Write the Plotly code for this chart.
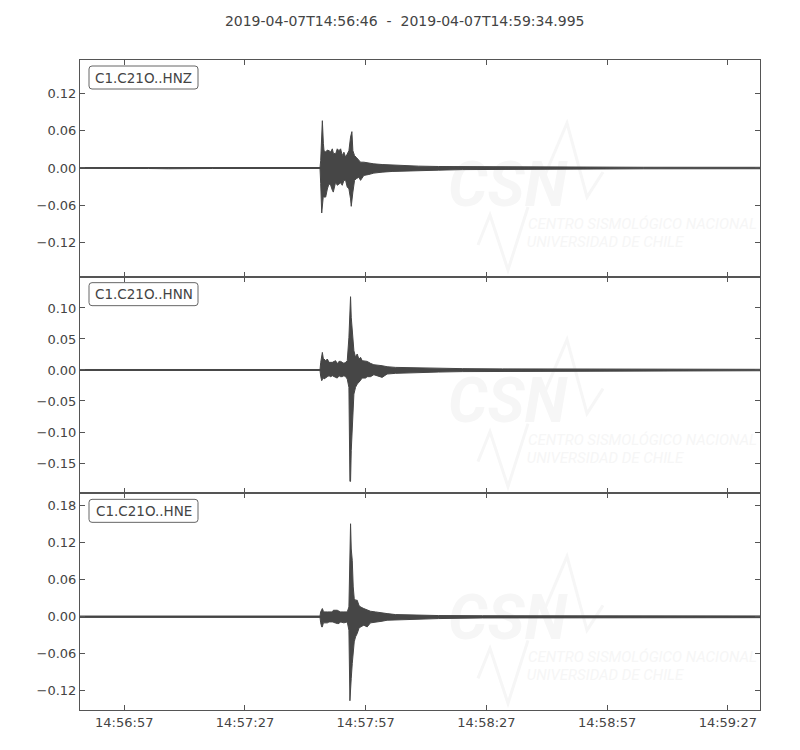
import pandas as pd
import plotly.graph_objects as go
from plotly.subplots import make_subplots

# ---------------- data ----------------
start_time = "2019-04-07 14:56:46"
end_time = "2019-04-07 14:59:34.995"
title_text = "2019-04-07T14:56:46  -  2019-04-07T14:59:34.995"
channels = ["C1.C21O..HNZ", "C1.C21O..HNN", "C1.C21O..HNE"]
x_tick_labels = ["14:56:57", "14:57:27", "14:57:57", "14:58:27", "14:58:57", "14:59:27"]

# seconds after start, upper envelope, lower envelope
hnz_t = [0.0, 17.0, 22.0, 28.0, 33.0, 59.65, 59.82, 60.07, 60.23, 60.48, 60.64, 61.06, 61.47,
         61.88, 62.30, 62.71, 62.95, 63.53, 63.94, 64.36, 64.77, 65.18, 65.59, 66.01, 66.42,
         66.83, 67.24, 67.41, 67.57, 67.82, 68.23, 68.65, 69.31, 69.72, 70.54, 71.78, 73.02,
         75.08, 77.56, 80.86, 84.16, 89.11, 95.0, 105.0, 120.0, 140.0, 169.0]
hnz_hi = [0.0007, 0.0008, 0.0013, 0.0012, 0.0008, 0.0008, 0.0120, 0.0765, 0.0765, 0.0400, 0.0280,
          0.0260, 0.0290, 0.0280, 0.0260, 0.0310, 0.0240, 0.0228, 0.0310, 0.0280, 0.0310, 0.0200,
          0.0255, 0.0174, 0.0228, 0.0280, 0.0500, 0.0588, 0.0588, 0.0280, 0.0200, 0.0174, 0.0132,
          0.0094, 0.0094, 0.0078, 0.0067, 0.0056, 0.0046, 0.0035, 0.0030, 0.0024, 0.0022, 0.0018,
          0.0014, 0.0012, 0.0011]
hnz_lo = [-0.0007, -0.0008, -0.0012, -0.0013, -0.0008, -0.0008, -0.0250, -0.0728, -0.0728, -0.0450,
          -0.0470, -0.0470, -0.0340, -0.0255, -0.0280, -0.0360, -0.0390, -0.0228, -0.0280, -0.0255,
          -0.0240, -0.0280, -0.0200, -0.0200, -0.0310, -0.0336, -0.0500, -0.0620, -0.0620, -0.0390,
          -0.0200, -0.0174, -0.0148, -0.0200, -0.0120, -0.0105, -0.0083, -0.0067, -0.0056, -0.0046,
          -0.0040, -0.0035, -0.0026, -0.0020, -0.0016, -0.0013, -0.0012]

hnn_t = [0.0, 59.65, 59.82, 60.07, 60.23, 60.48, 60.64, 61.06, 61.47, 61.88, 62.30, 62.71, 63.53,
         63.94, 64.36, 64.77, 65.18, 65.59, 66.01, 66.42, 66.83, 67.08, 67.24, 67.41, 67.66, 67.90,
         68.07, 68.48, 68.89, 69.31, 69.72, 70.13, 70.96, 71.37, 72.19, 73.02, 75.08, 76.32, 78.38,
         81.68, 85.81, 89.11, 95.0, 105.0, 120.0, 140.0, 169.0]
hnn_hi = [0.0008, 0.0008, 0.0120, 0.0284, 0.0284, 0.0180, 0.0177, 0.0150, 0.0177, 0.0123, 0.0123,
          0.0123, 0.0150, 0.0100, 0.0139, 0.0139, 0.0123, 0.0107, 0.0123, 0.0150, 0.0526, 0.1182,
          0.1182, 0.0850, 0.0688, 0.0526, 0.0311, 0.0204, 0.0258, 0.0177, 0.0204, 0.0150, 0.0150,
          0.0139, 0.0107, 0.0085, 0.0069, 0.0053, 0.0042, 0.0037, 0.0032, 0.0026, 0.0022, 0.0018,
          0.0014, 0.0012, 0.0011]
hnn_lo = [-0.0008, -0.0008, -0.0100, -0.0173, -0.0173, -0.0120, -0.0145, -0.0130, -0.0108, -0.0092,
          -0.0108, -0.0092, -0.0119, -0.0130, -0.0092, -0.0108, -0.0108, -0.0092, -0.0108, -0.0146,
          -0.0280, -0.1796, -0.1796, -0.1300, -0.0925, -0.0630, -0.0388, -0.0280, -0.0226, -0.0200,
          -0.0173, -0.0130, -0.0130, -0.0108, -0.0108, -0.0076, -0.0119, -0.0065, -0.0054, -0.0044,
          -0.0038, -0.0033, -0.0026, -0.0022, -0.0016, -0.0013, -0.0012]

hne_t = [0.0, 59.65, 59.82, 60.07, 60.23, 60.48, 60.64, 61.47, 61.88, 62.71, 62.95, 63.94, 64.36,
         64.77, 65.59, 66.42, 66.83, 67.08, 67.24, 67.41, 67.66, 67.90, 68.15, 68.48, 68.89, 69.31,
         69.72, 70.54, 71.37, 72.19, 73.43, 75.08, 76.32, 78.38, 81.68, 85.81, 89.11, 100.0, 120.0,
         169.0]
hne_hi = [0.0011, 0.0011, 0.0080, 0.0133, 0.0133, 0.0090, 0.0078, 0.0078, 0.0078, 0.0078, 0.0105,
          0.0105, 0.0090, 0.0078, 0.0078, 0.0078, 0.0159, 0.1510, 0.1510, 0.1100, 0.0916, 0.0484,
          0.0295, 0.0268, 0.0268, 0.0187, 0.0159, 0.0132, 0.0105, 0.0089, 0.0078, 0.0068, 0.0051,
          0.0035, 0.0030, 0.0024, 0.0019, 0.0016, 0.0014, 0.0013]
hne_lo = [-0.0011, -0.0011, -0.0100, -0.0165, -0.0165, -0.0100, -0.0100, -0.0100, -0.0084, -0.0084,
          -0.0090, -0.0111, -0.0111, -0.0084, -0.0100, -0.0084, -0.0219, -0.1365, -0.1365, -0.1000,
          -0.0760, -0.0543, -0.0408, -0.0327, -0.0273, -0.0192, -0.0165, -0.0138, -0.0165, -0.0100,
          -0.0084, -0.0073, -0.0057, -0.0046, -0.0041, -0.0035, -0.0030, -0.0020, -0.0016, -0.0015]

# axis settings
y_ranges = [[-0.1758, 0.1747], [-0.1989, 0.1505], [-0.1515, 0.2004]]
y_ticks = [[-0.12, -0.06, 0.0, 0.06, 0.12],
           [-0.15, -0.10, -0.05, 0.0, 0.05, 0.10],
           [-0.12, -0.06, 0.0, 0.06, 0.12, 0.18]]

# ---------------- figure ----------------
OFF = 8  # the page body margin shifts the figure by 8px
W, H = 800 - OFF, 750 - OFF
PL, PT, PW, PH = 80, 60, 680, 650   # plot area in page pixels
ML, MT = PL - OFF, PT - OFF
MR, MB = W - ML - PW, H - MT - PH
t0 = pd.Timestamp(start_time)
TRACE_C = "#464646"
TEXT_C = "#444444"
AX_C = "#555555"
WM_C = "#f6f6f6"


def to_dt(ts):
    return [(t0 + pd.Timedelta(seconds=s)).strftime("%Y-%m-%d %H:%M:%S.%f") for s in ts]


def px(xp):
    return (xp - PL) / PW


def py(yp):
    return (PT + PH - yp) / PH


fig = make_subplots(rows=3, cols=1, shared_xaxes=True, vertical_spacing=0)

series = [(hnz_t, hnz_hi, hnz_lo), (hnn_t, hnn_hi, hnn_lo), (hne_t, hne_hi, hne_lo)]
for i, (t, hi, lo) in enumerate(series):
    xs = to_dt(list(t) + list(t)[::-1])
    ys = list(hi) + list(lo)[::-1]
    fig.add_trace(go.Scatter(x=xs, y=ys, mode="lines", fill="toself", fillcolor=TRACE_C,
                             line=dict(color=TRACE_C, width=1), hoverinfo="skip",
                             showlegend=False), row=i + 1, col=1)

tickvals = [pd.Timestamp(start_time[:11] + lab).strftime("%Y-%m-%d %H:%M:%S") for lab in x_tick_labels]

for i in range(3):
    fig.update_xaxes(row=i + 1, col=1, type="date",
                     range=[t0.strftime("%Y-%m-%d %H:%M:%S"), end_time],
                     tickvals=tickvals, ticktext=x_tick_labels,
                     showticklabels=(i == 2),
                     ticks="inside", ticklen=5, tickcolor=AX_C, tickwidth=1,
                     showline=True, linecolor=AX_C, linewidth=1, mirror="allticks",
                     showgrid=False, zeroline=False,
                     tickfont=dict(family="DejaVu Sans", size=13, color=TEXT_C))
    fig.update_yaxes(row=i + 1, col=1, range=y_ranges[i], tickvals=y_ticks[i], tickformat=".2f",
                     ticks="inside", ticklen=5, tickcolor=AX_C, tickwidth=1,
                     showline=True, linecolor=AX_C, linewidth=1, mirror="allticks",
                     showgrid=False, zeroline=False,
                     tickfont=dict(family="DejaVu Sans", size=13, color=TEXT_C))

shapes = []
annotations = []
panel_h = PH / 3.0
for i, name in enumerate(channels):
    top = PT + i * panel_h
    # watermark (below traces)
    shapes.append(dict(type="rect", xref="paper", yref="paper", layer="below",
                       x0=px(455), x1=px(560), y0=py(top + 150), y1=py(top + 90),
                       line=dict(width=0), fillcolor="rgba(0,0,0,0)",
                       label=dict(text="CSN", textposition="middle center",
                                  font=dict(family="Roboto", size=62, color=WM_C,
                                            weight="bold", style="italic"))))
    shapes.append(dict(type="rect", xref="paper", yref="paper", layer="below",
                       x0=px(528), x1=px(757), y0=py(top + 170), y1=py(top + 155),
                       line=dict(width=0), fillcolor="rgba(0,0,0,0)",
                       label=dict(text="CENTRO SISMOLÓGICO NACIONAL", textposition="middle center",
                                  font=dict(family="Roboto", size=15, color=WM_C, style="italic"))))
    shapes.append(dict(type="rect", xref="paper", yref="paper", layer="below",
                       x0=px(528), x1=px(682), y0=py(top + 188), y1=py(top + 173),
                       line=dict(width=0), fillcolor="rgba(0,0,0,0)",
                       label=dict(text="UNIVERSIDAD DE CHILE", textposition="middle center",
                                  font=dict(family="Roboto", size=15, color=WM_C, style="italic"))))
    for pts in ([(478, 185), (490, 155), (508, 210), (528, 147)],
                [(545, 115), (567, 63), (587, 137), (603, 112)]):
        path = "M " + " L ".join(f"{px(a):.5f},{py(top + b):.5f}" for a, b in pts)
        shapes.append(dict(type="path", xref="paper", yref="paper", layer="below", path=path,
                           line=dict(color=WM_C, width=3)))
    # rounded label box
    x0, x1 = px(89), px(198)
    y1, y0 = py(top + 6), py(top + 29)
    rx, ry = 3.0 / PW, 3.0 / PH
    path = (f"M {x0 + rx},{y0} L {x1 - rx},{y0} Q {x1},{y0} {x1},{y0 + ry} "
            f"L {x1},{y1 - ry} Q {x1},{y1} {x1 - rx},{y1} L {x0 + rx},{y1} "
            f"Q {x0},{y1} {x0},{y1 - ry} L {x0},{y0 + ry} Q {x0},{y0} {x0 + rx},{y0} Z")
    shapes.append(dict(type="path", xref="paper", yref="paper", layer="above", path=path,
                       line=dict(color="#666666", width=1), fillcolor="white"))
    annotations.append(dict(text=name, xref="paper", yref="paper", x=px(143.5), y=py(top + 17.5),
                            xanchor="center", yanchor="middle", showarrow=False,
                            font=dict(family="DejaVu Sans", size=13.5, color=TEXT_C)))

fig.update_layout(
    width=W, height=H,
    margin=dict(l=ML, r=MR, t=MT, b=MB),
    paper_bgcolor="white", plot_bgcolor="white",
    title=dict(text=title_text.replace(" ", "\u00a0"), x=(404.7 - OFF) / W, xref="container",
               xanchor="center", y=1 - (20.7 - OFF) / H, yref="container", yanchor="middle",
               font=dict(family="DejaVu Sans", size=14, color=TEXT_C)),
    shapes=shapes, annotations=annotations,
    showlegend=False,
)

fig.write_html("out.html")
